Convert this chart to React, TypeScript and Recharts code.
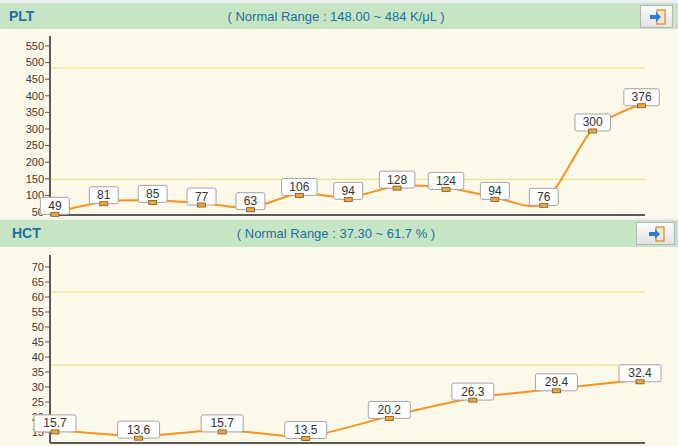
import React from 'react';
import { LineChart, Line, XAxis, YAxis, ReferenceLine, LabelList } from 'recharts';

// PLT panel
const pltIndex = [0, 1, 2, 3, 4, 5, 6, 7, 8, 9, 10, 11, 12];
const pltValues = [49, 81, 85, 77, 63, 106, 94, 128, 124, 94, 76, 300, 376];
const pltTicks = [50, 100, 150, 200, 250, 300, 350, 400, 450, 500, 550];
const pltRange = [148, 484];
const pltTitle = '( Normal Range : 148.00 ~ 484 K/\u03bcL )';

// HCT panel
const hctIndex = [0, 1, 2, 3, 4, 5, 6, 7];
const hctValues = [15.7, 13.6, 15.7, 13.5, 20.2, 26.3, 29.4, 32.4];
const hctTicks = [15, 20, 25, 30, 35, 40, 45, 50, 55, 60, 65, 70];
const hctRange = [37.3, 61.7];
const hctTitle = '( Normal Range : 37.30 ~ 61.7 % )';

const FONT = '"Liberation Sans", Arial, sans-serif';
const ORANGE = '#f7931e';
const AXIS = '#5a5a5a';

const steps = (from: number, to: number, step: number) => {
  const out: number[] = [];
  for (let v = from; v <= to + 1e-9; v += step) out.push(Math.round(v * 100) / 100);
  return out;
};

// loose cardinal spline, the old chart control smooths like this
const softCurve = (ctx: any) => {
  let pts: number[][] = [];
  const k = 0.12;
  return {
    areaStart() {},
    areaEnd() {},
    lineStart() {
      pts = [];
    },
    point(x: number, y: number) {
      pts.push([+x, +y]);
    },
    lineEnd() {
      if (!pts.length) return;
      ctx.moveTo(pts[0][0], pts[0][1]);
      for (let i = 0; i < pts.length - 1; i++) {
        const p0 = pts[i - 1] || pts[i];
        const p1 = pts[i];
        const p2 = pts[i + 1];
        const p3 = pts[i + 2] || p2;
        ctx.bezierCurveTo(
          p1[0] + k * (p2[0] - p0[0]),
          p1[1] + k * (p2[1] - p0[1]),
          p2[0] - k * (p3[0] - p1[0]),
          p2[1] - k * (p3[1] - p1[1]),
          p2[0],
          p2[1]
        );
      }
    },
  };
};

const ValueBox = (props: any) => {
  const { x, y, value } = props;
  const s = String(value);
  const w = s.length * 6.5 + 16;
  return (
    <g>
      <rect x={x - w / 2} y={y - 15} width={w} height={17} rx={2} fill='#fefefe' stroke='#a3a3a3' />
      <text x={x} y={y - 2.5} textAnchor='middle' fontSize={12} fontFamily={FONT} fill='#333'>
        {s}
      </text>
      <rect x={x - 4} y={y} width={8} height={4} fill='#f2a53c' stroke='#7a5522' strokeWidth={0.8} />
    </g>
  );
};

const ExportButton = ({ left, top, width }: { left: number; top: number; width: number }) => (
  <div
    style={{
      position: 'absolute',
      left,
      top,
      width,
      height: 23,
      boxSizing: 'border-box',
      border: '1px solid #b5b5b5',
      background: 'linear-gradient(#fbfbfb, #e3e3e3)',
    }}
  >
    <svg width={18} height={16} style={{ position: 'absolute', left: width / 2 - 9, top: 3 }}>
      <rect x={8} y={1} width={8} height={14} fill='#f7e7c4' stroke='#d28a2a' strokeWidth={1.2} />
      <path d='M1 6 H7 V3 L12 8 L7 13 V10 H1 Z' fill='#2b7fd6' />
    </svg>
  </div>
);

interface PanelProps {
  name: string;
  title: string;
  index: number[];
  values: number[];
  ticks: number[];
  minor: number[];
  range: number[];
  yDomain: number[];
  xDomain: number[];
  xTicks: number[];
  top: number;
  headerH: number;
  chartH: number;
  marginTop: number;
  plotH: number;
  nameLeft: number;
  buttonLeft: number;
  buttonWidth: number;
}

const Panel = (p: PanelProps) => {
  const data = p.index.map((i, k) => ({ i, v: p.values[k] }));
  return (
    <div style={{ position: 'absolute', left: 0, top: p.top, width: 678 }}>
      <div
        style={{
          position: 'absolute',
          left: 0,
          top: 0,
          width: 678,
          height: p.headerH,
          background: '#c6e5c4',
          fontFamily: FONT,
          color: '#1f6fa2',
        }}
      >
        <div style={{ position: 'absolute', left: p.nameLeft, top: 5, fontSize: 14, fontWeight: 'bold' }}>{p.name}</div>
        <div style={{ position: 'absolute', left: 0, width: 672, top: 6, fontSize: 13, textAlign: 'center' }}>{p.title}</div>
      </div>
      <ExportButton left={p.buttonLeft} top={2} width={p.buttonWidth} />
      <div style={{ position: 'absolute', left: 0, top: p.headerH, width: 678, height: p.chartH, background: '#fdf9ea' }}>
        <LineChart width={678} height={p.chartH} data={data} margin={{ top: p.marginTop, right: 33, bottom: 0, left: 0 }}>
          <XAxis
            dataKey='i'
            type='number'
            domain={p.xDomain}
            ticks={p.xTicks}
            tick={false}
            tickSize={3}
            height={p.chartH - p.marginTop - p.plotH}
            axisLine={{ stroke: AXIS, strokeWidth: 2 }}
            tickLine={{ stroke: AXIS }}
          />
          <YAxis
            yAxisId='main'
            type='number'
            domain={p.yDomain}
            ticks={p.ticks}
            interval={0}
            width={50}
            tickSize={5}
            tickMargin={1}
            tick={{ fontSize: 11, fill: '#3a3a3a', fontFamily: FONT }}
            axisLine={{ stroke: AXIS, strokeWidth: 2 }}
            tickLine={{ stroke: AXIS }}
          />
          <YAxis
            yAxisId='minor'
            type='number'
            domain={p.yDomain}
            ticks={p.minor}
            interval={0}
            width={0}
            tickSize={2}
            tick={false}
            axisLine={false}
            tickLine={{ stroke: '#9a9a9a' }}
          />
          {p.range.map((r) => (
            <ReferenceLine key={r} yAxisId='main' y={r} stroke='#e4e489' strokeWidth={1.2} />
          ))}
          <Line
            yAxisId='main'
            type={softCurve as any}
            dataKey='v'
            stroke={ORANGE}
            strokeWidth={2}
            dot={false}
            isAnimationActive={false}
          >
            <LabelList dataKey='v' content={ValueBox} />
          </Line>
        </LineChart>
      </div>
    </div>
  );
};

export default function App() {
  return (
    <div style={{ position: 'fixed', left: 0, top: 0, width: 678, height: 446, background: '#efefef', overflow: 'hidden' }}>
      <Panel
        name='PLT'
        title={pltTitle}
        index={pltIndex}
        values={pltValues}
        ticks={pltTicks}
        minor={steps(50, 570, 10)}
        range={pltRange}
        yDomain={[41, 580]}
        xDomain={[-0.1, 12.07]}
        xTicks={steps(0, 12, 0.5)}
        top={3}
        headerH={26}
        chartH={189}
        marginTop={7}
        plotH={179}
        nameLeft={9}
        buttonLeft={640}
        buttonWidth={33}
      />
      <Panel
        name='HCT'
        title={hctTitle}
        index={hctIndex}
        values={hctValues}
        ticks={hctTicks}
        minor={steps(12, 74, 1)}
        range={hctRange}
        yDomain={[11.33, 74]}
        xDomain={[-0.06, 7.06]}
        xTicks={steps(0, 7, 0.5)}
        top={220}
        headerH={27}
        chartH={199}
        marginTop={8}
        plotH={188}
        nameLeft={12}
        buttonLeft={636}
        buttonWidth={39}
      />
    </div>
  );
}
